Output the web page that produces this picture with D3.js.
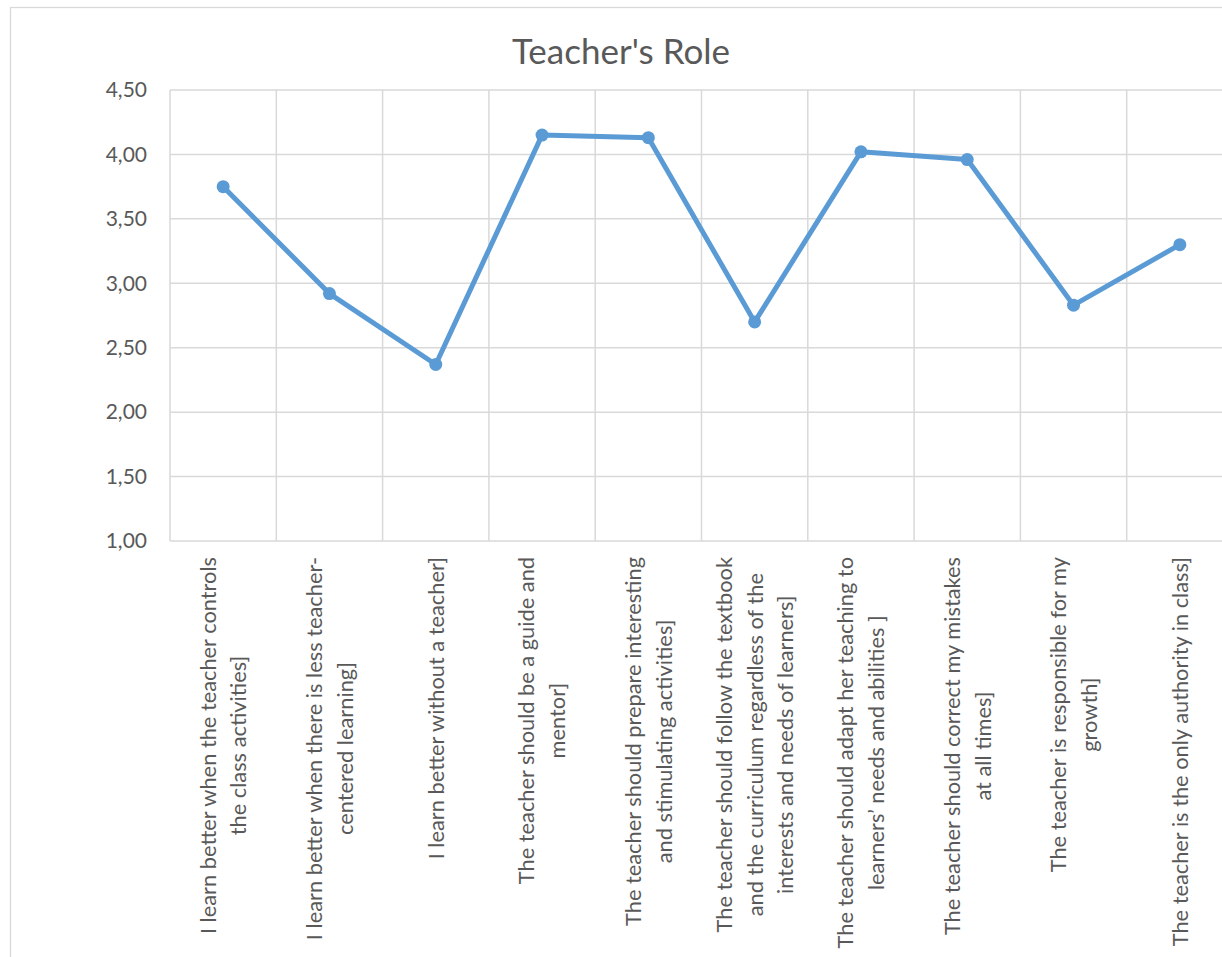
<!DOCTYPE html>
<html>
<head>
<meta charset="utf-8">
<script src="https://cdn.jsdelivr.net/npm/d3@7"></script>
<style>
    body { margin: 0; background: #fff; }
    svg { display: block; font-family: Lato, "Open Sans", sans-serif; }
</style>
</head>
<body>
<div id="chart"></div>
<script>
(function(d3) {
    'use strict';

    // Data
    var categories = [
        ['I learn better when the teacher controls', 'the class activities]'],
        ['I learn better when there is less teacher-', 'centered learning]'],
        ['I learn better without a teacher]'],
        ['The teacher should be a guide and', 'mentor]'],
        ['The teacher should prepare interesting', 'and stimulating activities]'],
        ['The teacher should follow the textbook', 'and the curriculum regardless of the', 'interests and needs of learners]'],
        ['The teacher should adapt her teaching to', 'learners\u2019 needs and abilities ]'],
        ['The teacher should correct my mistakes', 'at all times]'],
        ['The teacher is responsible for my', 'growth]'],
        ['The teacher is the only authority in class]']
    ];
    var values = [3.75, 2.92, 2.37, 4.15, 4.13, 2.70, 4.02, 3.96, 2.83, 3.30];
    var yTicks = [1.00, 1.50, 2.00, 2.50, 3.00, 3.50, 4.00, 4.50];
    var title = "Teacher's Role";

    // Layout
    var width = 1222,
        height = 957;
    var margin = {top: 90, left: 170};
    var plotWidth = 1063,
        plotHeight = 451;
    var textColor = '#595959',
        gridColor = '#d9d9d9',
        lineColor = '#5b9bd5';

    var svg = d3.select('#chart').append('svg')
        .attr('width', width)
        .attr('height', height);

    svg.append('rect')
        .attr('width', width)
        .attr('height', height)
        .attr('fill', '#fff');

    // Chart border
    svg.append('rect')
        .attr('x', 10.5)
        .attr('y', 7.5)
        .attr('width', width + 20)
        .attr('height', height + 20)
        .attr('fill', 'none')
        .attr('stroke', gridColor)
        .attr('stroke-width', 1.3);

    svg.append('text')
        .attr('x', 621)
        .attr('y', 64)
        .attr('text-anchor', 'middle')
        .attr('fill', textColor)
        .style('font-size', '35px')
        .text(title);

    var x = d3.scaleBand()
        .domain(d3.range(categories.length))
        .range([0, plotWidth]);

    var y = d3.scaleLinear()
        .domain([1, 4.5])
        .range([plotHeight, 0]);

    var chart = svg.append('g')
        .attr('transform', 'translate(' + margin.left + ',' + margin.top + ')');

    // Horizontal gridlines
    chart.append('g')
        .selectAll('line')
        .data(yTicks)
        .enter().append('line')
        .attr('x1', 0)
        .attr('x2', plotWidth)
        .attr('y1', function(d) { return y(d); })
        .attr('y2', function(d) { return y(d); })
        .attr('stroke', gridColor)
        .attr('stroke-width', 1.5);

    // Vertical gridlines at category boundaries
    chart.append('g')
        .selectAll('line')
        .data(d3.range(categories.length + 1))
        .enter().append('line')
        .attr('x1', function(d) { return d * x.step(); })
        .attr('x2', function(d) { return d * x.step(); })
        .attr('y1', 0)
        .attr('y2', plotHeight)
        .attr('stroke', gridColor)
        .attr('stroke-width', 1.5);

    // Y axis labels
    var yAxis = d3.axisLeft(y)
        .tickValues(yTicks)
        .tickSize(0)
        .tickPadding(23)
        .tickFormat(function(d) { return d3.format('.2f')(d).replace('.', ','); });

    chart.append('g')
        .call(yAxis)
        .call(function(g) { g.select('.domain').remove(); })
        .selectAll('text')
        .attr('fill', textColor)
        .style('font-size', '21px')
        .style('font-family', 'Lato, "Open Sans", sans-serif');

    // Category labels, rotated, top aligned, lines centred
    var lineGap = 31;
    var labels = chart.append('g')
        .attr('transform', 'translate(0,' + (plotHeight + 16) + ')');

    categories.forEach(function(lines, i) {
        var cx = x(i) + x.bandwidth() / 2;
        var g = labels.append('g')
            .attr('transform', 'translate(' + cx + ',0) rotate(-90)');
        var texts = g.selectAll('text')
            .data(lines)
            .enter().append('text')
            .attr('fill', textColor)
            .attr('text-anchor', 'middle')
            .attr('dy', '0.36em')
            .style('font-size', '21.8px')
            .attr('y', function(d, j) { return (j - (lines.length - 1) / 2) * lineGap; })
            .text(function(d) { return d; });
        var maxW = d3.max(texts.nodes(), function(n) { return n.getComputedTextLength(); });
        texts.attr('x', -maxW / 2);
    });

    // Line and markers
    var line = d3.line()
        .x(function(d, i) { return x(i) + x.bandwidth() / 2; })
        .y(function(d) { return y(d); });

    chart.append('path')
        .datum(values)
        .attr('d', line)
        .attr('fill', 'none')
        .attr('stroke', lineColor)
        .attr('stroke-width', 5)
        .attr('stroke-linejoin', 'round');

    chart.append('g')
        .selectAll('circle')
        .data(values)
        .enter().append('circle')
        .attr('cx', function(d, i) { return x(i) + x.bandwidth() / 2; })
        .attr('cy', function(d) { return y(d); })
        .attr('r', 6.5)
        .attr('fill', lineColor);
}(d3));
</script>
</body>
</html>
